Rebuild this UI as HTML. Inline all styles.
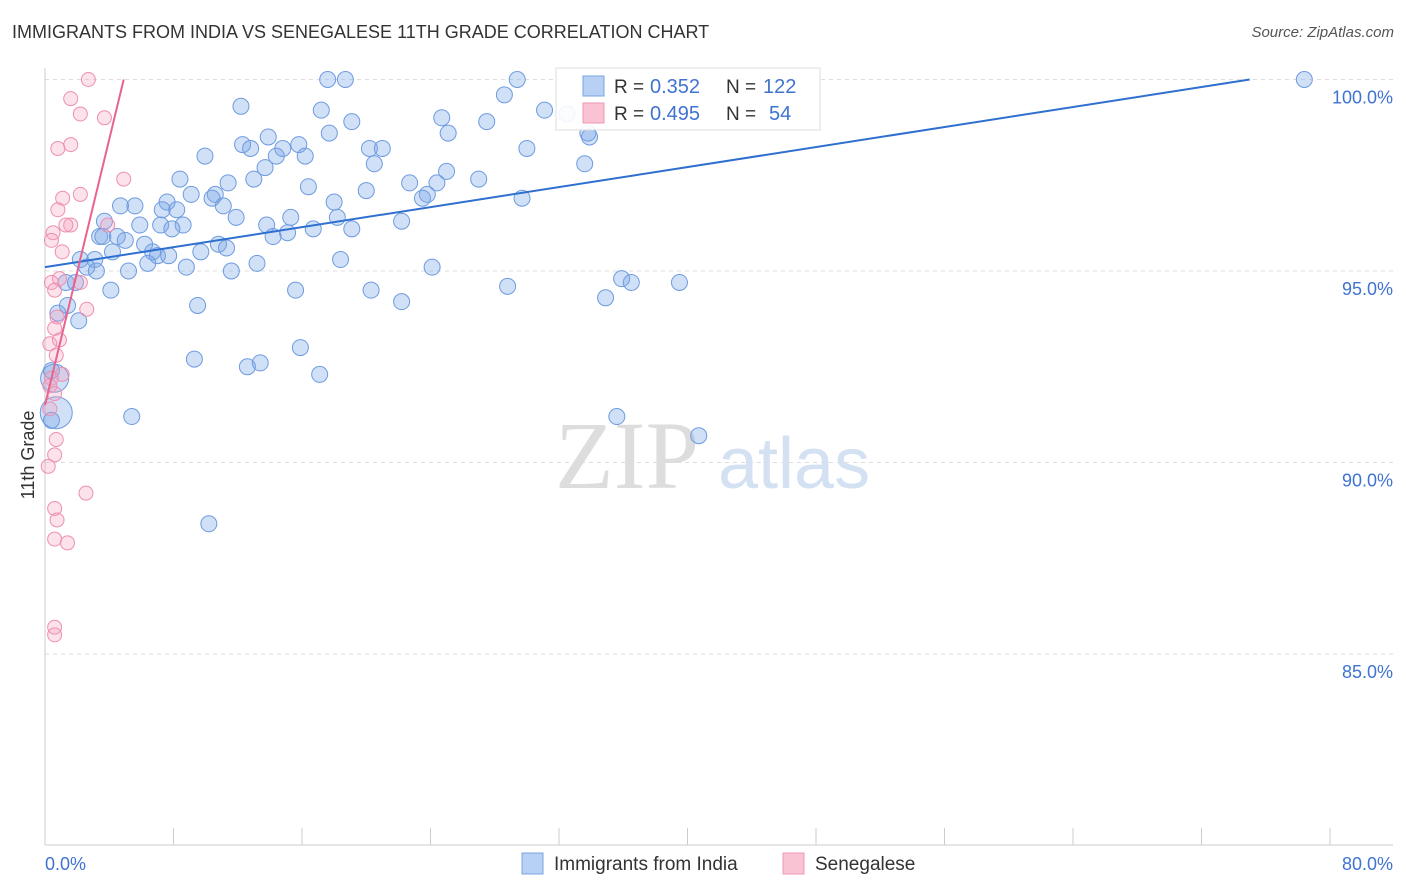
<!DOCTYPE html>
<html><head><meta charset="utf-8"><style>
body{margin:0;background:#fff;font-family:"Liberation Sans",sans-serif;}
#wrap{position:relative;width:1406px;height:892px;overflow:hidden}
.t{position:absolute;white-space:nowrap}
</style></head><body><div id="wrap">
<div class="t" style="left:12px;top:22px;font-size:18px;color:#333">IMMIGRANTS FROM INDIA VS SENEGALESE 11TH GRADE CORRELATION CHART</div>
<div class="t" style="right:12px;top:24px;font-size:15px;color:#555;font-style:italic">Source: ZipAtlas.com</div>
<svg id="svg" width="1406" height="892" style="position:absolute;left:0;top:0"></svg>
</div>
<script>
const xTicks=[0,80];
const yTicks=[85,90,95,100];
const blueX=[78.4,17.6,18.7,29.4,28.6,12.2,17.2,31.1,24.7,19.1,27.5,17.7,25.1,33.8,33.9,13.9,12.3,12.8,15.8,20.2,21.0,30.0,14.8,9.96,14.4,16.2,20.5,33.6,13.7,25.0,8.4,13.0,24.4,22.7,27.0,11.4,16.4,20.0,10.6,9.1,10.4,23.8,23.5,29.7,18.0,7.6,11.1,4.7,5.6,7.3,8.2,11.9,15.3,18.2,22.2,3.7,5.9,8.6,7.2,13.8,16.7,19.1,7.9,15.1,14.2,3.4,4.5,3.6,5.0,10.8,11.3,6.2,4.2,6.7,7.0,7.7,9.7,18.4,2.2,3.1,6.4,13.2,2.6,3.2,5.2,8.8,24.1,11.6,35.9,36.5,39.5,1.3,1.9,4.1,15.6,20.3,28.8,34.9,22.2,9.5,1.4,0.8,2.1,15.9,9.3,13.4,12.6,17.1,0.6,0.4,0.7,5.4,35.6,40.7,10.2,0.4,32.5];
const blueY=[100,100,100,100,99.6,99.3,99.2,99.2,99.0,98.9,98.9,98.6,98.6,98.6,98.5,98.5,98.3,98.2,98.3,98.2,98.2,98.2,98.2,98.0,98.0,98.0,97.8,97.8,97.7,97.6,97.4,97.4,97.3,97.3,97.4,97.3,97.2,97.1,97.0,97.0,96.9,97.0,96.9,96.9,96.8,96.8,96.7,96.7,96.7,96.6,96.6,96.4,96.4,96.4,96.3,96.3,96.2,96.2,96.2,96.2,96.1,96.1,96.1,96.0,95.9,95.9,95.9,95.9,95.8,95.7,95.6,95.7,95.5,95.5,95.4,95.4,95.5,95.3,95.3,95.3,95.2,95.2,95.1,95.0,95.0,95.1,95.1,95.0,94.8,94.7,94.7,94.7,94.7,94.5,94.5,94.5,94.6,94.3,94.2,94.1,94.1,93.9,93.7,93.0,92.7,92.6,92.5,92.3,92.2,92.4,91.3,91.2,91.2,90.7,88.4,91.1,99.1];
const blueR=[8,8,8,8,8,8,8,8,8,8,8,8,8,8,8,8,8,8,8,8,8,8,8,8,8,8,8,8,8,8,8,8,8,8,8,8,8,8,8,8,8,8,8,8,8,8,8,8,8,8,8,8,8,8,8,8,8,8,8,8,8,8,8,8,8,8,8,8,8,8,8,8,8,8,8,8,8,8,8,8,8,8,8,8,8,8,8,8,8,8,8,8,8,8,8,8,8,8,8,8,8,8,8,8,8,8,8,8,14,8,16,8,8,8,8,8,8];
const pinkX=[2.7,1.6,2.2,3.7,1.6,0.8,4.9,2.2,1.1,0.8,1.6,1.3,3.9,0.5,0.4,1.07,0.9,0.4,2.2,0.6,2.6,0.75,0.6,0.9,0.3,0.7,1.07,0.4,0.3,0.6,0.3,0.7,0.6,0.2,2.55,0.6,0.75,0.6,1.4,0.6,0.6];
const pinkY=[100,99.5,99.1,99.0,98.3,98.2,97.4,97.0,96.9,96.6,96.2,96.2,96.2,96.0,95.8,95.5,94.8,94.7,94.7,94.5,94.0,93.8,93.5,93.2,93.1,92.8,92.3,92.2,92.0,91.8,91.4,90.6,90.2,89.9,89.2,88.8,88.5,88.0,87.9,85.7,85.5];
const blueLine=[[0,95.1],[75,100]];
const pinkLine=[[0,91.5],[4.9,100]];
const X0=45,X1=1330,Y100=79.5,PX5=191.5;
const sx=v=>X0+(v/80)*(X1-X0);
const sy=v=>Y100+(100-v)/5*PX5;
const svg=document.getElementById('svg');const NS='http://www.w3.org/2000/svg';
function mk(tag,at,name){const e=document.createElementNS(NS,tag);for(const k in at)e.setAttribute(k,at[k]);


svg.appendChild(e);return e;}
// watermark
let w1=mk('text',{x:555,y:488,'font-size':96,'font-family':'Liberation Serif,serif',fill:'#ddd'},'watermark-zip');w1.textContent='ZIP';
let w2=mk('text',{x:718,y:488,'font-size':72,'font-family':'Liberation Sans,sans-serif',fill:'#d3e1f3'},'watermark-atlas');w2.textContent='atlas';
yTicks.forEach(v=>{mk('line',{x1:X0,x2:1393,y1:sy(v),y2:sy(v),stroke:'#ddd','stroke-dasharray':'4,4'},'gridline');
let t=mk('text',{x:1393,y:sy(v)+24,'text-anchor':'end','font-size':18,fill:'#3f73d1'},'y-tick-label');t.textContent=v.toFixed(1)+'%';});
mk('line',{x1:X0,x2:X0,y1:68,y2:845,stroke:'#ccc'},'y-axis');
mk('line',{x1:X0,x2:1393,y1:845,y2:845,stroke:'#ccc'},'x-axis');
for(let i=0;i<=10;i++){const x=sx(i*8);mk('line',{x1:x,x2:x,y1:828,y2:845,stroke:'#ccc'},'x-tick');}
xTicks.forEach((v,i)=>{let t=mk('text',{x:i?1393:45,y:870,'text-anchor':i?'end':'start','font-size':18,fill:'#3f73d1'},'x-tick-label');t.textContent=v.toFixed(1)+'%';});
let yl=mk('text',{x:0,y:0,transform:'translate(34,455) rotate(-90)','text-anchor':'middle','font-size':18,fill:'#333'},'y-axis-title');yl.textContent='11th Grade';
blueX.forEach((v,i)=>mk('circle',{cx:sx(v),cy:sy(blueY[i]),r:blueR[i]||8,fill:'rgba(120,165,230,0.35)',stroke:'#6e9be0','stroke-width':1},'india-point'));
pinkX.forEach((v,i)=>mk('circle',{cx:sx(v),cy:sy(pinkY[i]),r:7,fill:'rgba(245,160,190,0.3)',stroke:'#ee8fb0','stroke-width':1},'senegalese-point'));
mk('line',{x1:sx(blueLine[0][0]),y1:sy(blueLine[0][1]),x2:sx(blueLine[1][0]),y2:sy(blueLine[1][1]),stroke:'#2f6fd0','stroke-width':2},'india-trend-line');
mk('line',{x1:sx(pinkLine[0][0]),y1:sy(pinkLine[0][1]),x2:sx(pinkLine[1][0]),y2:sy(pinkLine[1][1]),stroke:'#e8638f','stroke-width':2},'senegalese-trend-line');
// legend
mk('rect',{x:556,y:68,width:264,height:62,fill:'rgba(255,255,255,0.9)',stroke:'#ddd'},'legend-box');
mk('rect',{x:583,y:76,width:21,height:20,fill:'#b7d0f3',stroke:'#7aa4e3'},'legend-swatch-india');
mk('rect',{x:583,y:103,width:21,height:20,fill:'#f9c3d3',stroke:'#ee9ab5'},'legend-swatch-senegalese');
[[93,'0.352','122'],[120,'0.495',' 54']].forEach((r,i)=>{
let a=mk('text',{x:614,y:r[0],'font-size':19,fill:'#333'},'legend-r-label');a.textContent='R = ';
let b=mk('text',{x:650,y:r[0],'font-size':20,fill:'#3f73d1'},'legend-r-value');b.textContent=r[1];
let c=mk('text',{x:726,y:r[0],'font-size':19,fill:'#333'},'legend-n-label');c.textContent='N =';
let d=mk('text',{x:763,y:r[0],'font-size':20,fill:'#3f73d1','xml:space':'preserve'},'legend-n-value');d.textContent=r[2].trim();if(i)d.setAttribute('x',769);});
// bottom legend
mk('rect',{x:522,y:853,width:21,height:21,fill:'#b7d0f3',stroke:'#7aa4e3'},'bottom-legend-swatch-india');
let l1=mk('text',{x:554,y:870,'font-size':19,fill:'#333'},'bottom-legend-india');l1.textContent='Immigrants from India';
mk('rect',{x:783,y:853,width:21,height:21,fill:'#f9c3d3',stroke:'#ee9ab5'},'bottom-legend-swatch-senegalese');
let l2=mk('text',{x:815,y:870,'font-size':19,fill:'#333'},'bottom-legend-senegalese');l2.textContent='Senegalese';
</script></body></html>
